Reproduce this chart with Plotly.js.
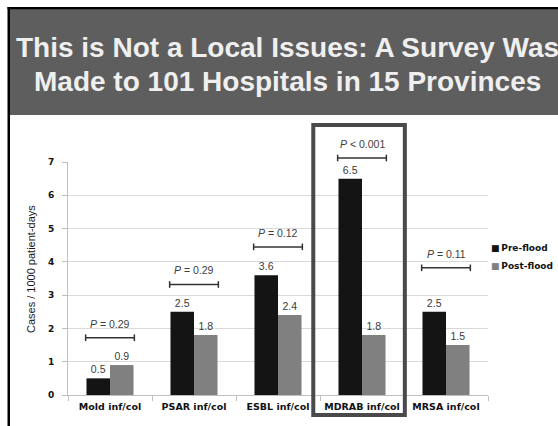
<!DOCTYPE html>
<html>
<head>
<meta charset="utf-8">
<script src="https://cdn.plot.ly/plotly-3.0.1.min.js"></script>
<style>
  html, body { margin: 0; padding: 0; background: #ffffff; }
  #chart { width: 558px; height: 426px; }
</style>
</head>
<body>
<div id="chart"></div>
<script>
// ---- data ----
const categories = ['Mold inf/col', 'PSAR inf/col', 'ESBL inf/col', 'MDRAB inf/col', 'MRSA inf/col'];
const seriesNames = ['Pre-flood', 'Post-flood'];
const preFlood = [0.5, 2.5, 3.6, 6.5, 2.5];
const postFlood = [0.9, 1.8, 2.4, 1.8, 1.5];
const pValueText = ['0.29', '0.29', '0.12', '< 0.001', '0.11'];
const pValueOp = ['=', '=', '=', '', '='];
const pBracketLevel = [1.72, 3.32, 4.45, 7.12, 3.82];
const yTicks = [0, 1, 2, 3, 4, 5, 6, 7];
const titleLines = ['This is Not a Local Issues: A Survey Was', 'Made to 101 Hospitals in 15 Provinces'];
const yTitle = 'Cases / 1000 patient-days';
const highlightCategory = 'MDRAB inf/col';

// ---- layout geometry ----
const W = 558, H = 426;
const L = 68, R = 70, T = 162, B = 31;
const PW = W - L - R, PH = H - T - B;
const YMAX = 7;
const N = categories.length;
function PX(x) { return (x - L) / PW; }
function PY(y) { return (H - B - y) / PH; }
function catPaper(i) { return (i + 0.5) / N; }
function valPaper(v) { return v / YMAX; }

const colors = ['#141414', '#808080'];

const traces = [preFlood, postFlood].map((vals, k) => ({
  type: 'bar',
  name: seriesNames[k],
  x: categories,
  y: vals,
  marker: { color: colors[k], line: { width: 0 } },
  text: vals.map(v => v.toFixed(1)),
  textposition: 'outside',
  textfont: { family: 'Liberation Sans, Arial, sans-serif', size: 10.5, color: '#3a3a3a' },
  cliponaxis: false,
  hoverinfo: 'skip',
  showlegend: false
}));

const shapes = [];
const annotations = [];

// slide frame + header
shapes.push({ type: 'rect', xref: 'paper', yref: 'paper', x0: PX(10), x1: PX(W + 2), y0: PY(115), y1: PY(9),
  fillcolor: '#5e5e5e', line: { width: 0 }, layer: 'below' });
shapes.push({ type: 'rect', xref: 'paper', yref: 'paper', x0: PX(7.5), x1: PX(W + 2), y0: PY(9.3), y1: PY(7),
  fillcolor: '#000000', line: { width: 0 } });
shapes.push({ type: 'rect', xref: 'paper', yref: 'paper', x0: PX(7.5), x1: PX(10), y0: PY(H + 2), y1: PY(7),
  fillcolor: '#000000', line: { width: 0 } });

annotations.push({ xref: 'paper', yref: 'paper', x: PX(287), y: PY(47.5), xanchor: 'center', yanchor: 'middle',
  text: '<b>' + titleLines[0] + '</b>', showarrow: false,
  font: { family: 'Liberation Sans, Arial, sans-serif', size: 28, color: '#efefef' } });
annotations.push({ xref: 'paper', yref: 'paper', x: PX(287), y: PY(81), xanchor: 'center', yanchor: 'middle',
  text: '<b>' + titleLines[1] + '</b>', showarrow: false,
  font: { family: 'Liberation Sans, Arial, sans-serif', size: 28, color: '#efefef' } });

// p-value brackets
const halfW = 0.29 / N;
const cap = 0.1 / YMAX;
categories.forEach((c, i) => {
  const xc = catPaper(i), yl = valPaper(pBracketLevel[i]);
  const ln = { color: '#333333', width: 1.5 };
  shapes.push({ type: 'line', xref: 'paper', yref: 'paper', x0: xc - halfW, x1: xc + halfW, y0: yl, y1: yl, line: ln });
  shapes.push({ type: 'line', xref: 'paper', yref: 'paper', x0: xc - halfW, x1: xc - halfW, y0: yl - cap, y1: yl + cap, line: ln });
  shapes.push({ type: 'line', xref: 'paper', yref: 'paper', x0: xc + halfW, x1: xc + halfW, y0: yl - cap, y1: yl + cap, line: ln });
  const op = pValueOp[i] ? ' ' + pValueOp[i] + ' ' : ' ';
  annotations.push({ xref: 'paper', yref: 'paper', x: xc, y: yl, yshift: 14, xanchor: 'center', yanchor: 'middle',
    text: '<i>P</i>' + op + pValueText[i], showarrow: false,
    font: { family: 'Liberation Sans, Arial, sans-serif', size: 10.5, color: '#404040' } });
});

// highlight box
const hi = categories.indexOf(highlightCategory);
shapes.push({ type: 'rect', xref: 'paper', yref: 'paper',
  x0: (hi + 0.5 - 0.58) / N, x1: (hi + 0.5 + 0.51) / N,
  y0: PY(415), y1: PY(125), line: { color: '#4a4a4a', width: 4 }, fillcolor: 'rgba(0,0,0,0)' });

// y-axis title
annotations.push({ xref: 'paper', yref: 'paper', x: PX(31), y: PY(269), xanchor: 'center', yanchor: 'middle',
  text: yTitle, textangle: -90, showarrow: false,
  font: { family: 'Liberation Sans, Arial, sans-serif', size: 11, color: '#1a1a1a' } });

// legend (manual)
seriesNames.forEach((nm, k) => {
  annotations.push({ xref: 'paper', yref: 'paper', x: PX(489), y: PY(248 + k * 18), xanchor: 'left', yanchor: 'middle',
    text: '<span style="color:' + colors[k] + '">■</span>&#8201;<b>' + nm + '</b>', showarrow: false,
    font: { family: 'DejaVu Sans, Verdana, sans-serif', size: 9, color: '#111111' } });
});

const layout = {
  width: W, height: H,
  margin: { l: L, r: R, t: T, b: B, pad: 0 },
  paper_bgcolor: '#ffffff',
  plot_bgcolor: '#ffffff',
  barmode: 'group',
  bargap: 0.44,
  bargroupgap: 0,
  showlegend: false,
  xaxis: {
    type: 'category',
    showgrid: false,
    showline: true, linecolor: '#bfbfbf', linewidth: 1,
    ticks: 'outside', tickson: 'boundaries', ticklen: 5, tickcolor: '#bfbfbf',
    tickangle: 0,
    ticklabelstandoff: 3,
    tickfont: { family: 'DejaVu Sans, Verdana, sans-serif', size: 9.5, color: '#111111', weight: 'bold' },
    fixedrange: true
  },
  yaxis: {
    range: [0, YMAX],
    tickvals: yTicks,
    ticktext: yTicks.map(String),
    showgrid: true, gridcolor: '#d9d9d9', gridwidth: 1,
    zeroline: false,
    showline: true, linecolor: '#bfbfbf', linewidth: 1,
    ticks: 'outside', ticklen: 5, tickcolor: '#bfbfbf',
    ticklabelstandoff: 6,
    tickfont: { family: 'DejaVu Sans, Verdana, sans-serif', size: 9, color: '#111111', weight: 'bold' },
    fixedrange: true
  },
  shapes: shapes,
  annotations: annotations
};

Plotly.newPlot('chart', traces, layout, { staticPlot: true, displayModeBar: false });
</script>
</body>
</html>
